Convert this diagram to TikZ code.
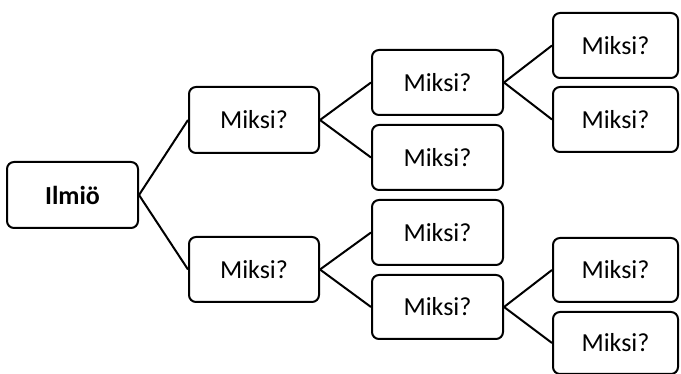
\documentclass[tikz,border=0pt]{standalone}
\usepackage{fontspec}
\setmainfont{Carlito}
\begin{document}
\begin{tikzpicture}[x=1pt,y=-1pt,
  box/.style={draw=black,line width=2pt,rounded corners=7pt,fill=white,font=\fontsize{26}{30}\selectfont},
  link/.style={draw=black,line width=2pt}]
\useasboundingbox (0,0) rectangle (681,374);
\newcommand\bx[6]{\node[box,minimum width=#4-#2,minimum height=#5-#3,inner sep=0pt] (#1) at ({(#2+#4)/2},{(#3+#5)/2}) {#6};}
\bx{r}{7}{162}{138}{228}{\textbf{Ilmiö}}
\bx{a}{189}{87}{319}{153}{Miksi?}
\bx{b}{189}{237}{319}{302}{Miksi?}
\bx{a1}{372}{50}{503}{115}{Miksi?}
\bx{a2}{372}{125}{503}{190}{Miksi?}
\bx{b1}{372}{200}{503}{265}{Miksi?}
\bx{b2}{372}{275}{503}{339}{Miksi?}
\bx{c1}{553}{13}{678}{78}{Miksi?}
\bx{c2}{553}{87}{678}{152}{Miksi?}
\bx{d1}{553}{238}{678}{302}{Miksi?}
\bx{d2}{553}{312}{678}{374}{Miksi?}
\draw[link] (r.east) -- (a.west);
\draw[link] (r.east) -- (b.west);
\draw[link] (a.east) -- (a1.west);
\draw[link] (a.east) -- (a2.west);
\draw[link] (b.east) -- (b1.west);
\draw[link] (b.east) -- (b2.west);
\draw[link] (a1.east) -- (c1.west);
\draw[link] (a1.east) -- (c2.west);
\draw[link] (b2.east) -- (d1.west);
\draw[link] (b2.east) -- (d2.west);
\end{tikzpicture}
\end{document}
